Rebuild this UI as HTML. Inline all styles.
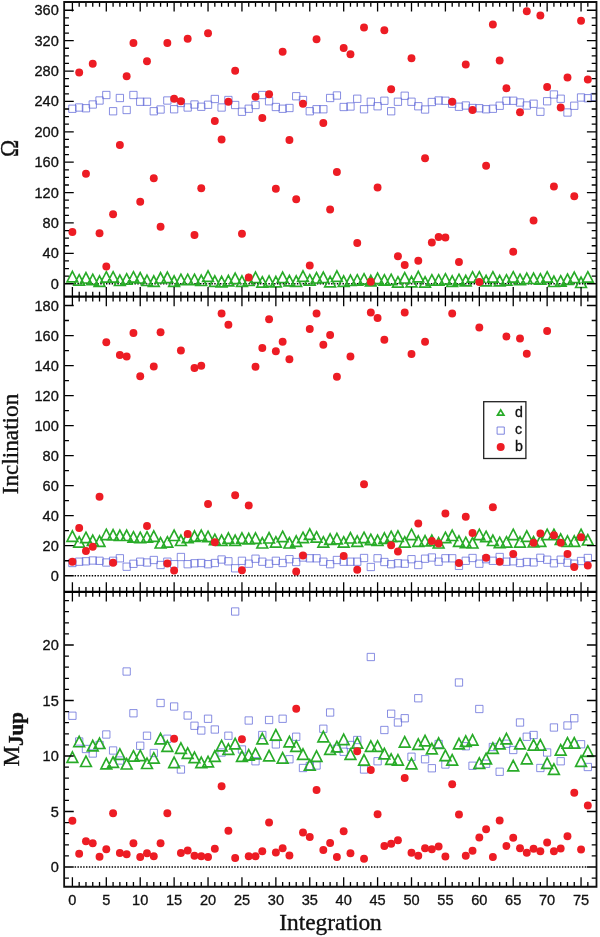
<!DOCTYPE html>
<html lang="en"><head><meta charset="utf-8"><title>Integration plot</title>
<style>html,body{margin:0;padding:0;background:#fff}svg{display:block}.tl{font-family:"Liberation Sans","DejaVu Sans",sans-serif;font-size:14.2px;fill:#111;stroke:#111;stroke-width:0.3px}.ax{font-family:"Liberation Serif","DejaVu Serif",serif;fill:#111;stroke:#111;stroke-width:0.35px}</style></head><body>
<svg width="600" height="937" viewBox="0 0 600 937">
<rect x="0" y="0" width="600" height="937" fill="#fff"/>
<defs><clipPath id="cp"><rect x="64.2" y="2.0" width="532.4" height="884.8"/></clipPath></defs>
<line x1="74.6" y1="283.75" x2="586.5" y2="283.75" stroke="#000" stroke-width="1.4" stroke-dasharray="1.45 1.4"/>
<line x1="74.6" y1="575.75" x2="586.5" y2="575.75" stroke="#000" stroke-width="1.4" stroke-dasharray="1.45 1.4"/>
<line x1="74.6" y1="867.00" x2="586.5" y2="867.00" stroke="#000" stroke-width="1.4" stroke-dasharray="1.45 1.4"/>
<g clip-path="url(#cp)">
<path fill="none" stroke="#6068d8" stroke-width="0.75" d="M68.75 105.10 h7.30 v7.30 h-7.30 Z M75.53 103.85 h7.30 v7.30 h-7.30 Z M82.31 104.60 h7.30 v7.30 h-7.30 Z M89.10 100.85 h7.30 v7.30 h-7.30 Z M95.88 96.85 h7.30 v7.30 h-7.30 Z M102.66 91.35 h7.30 v7.30 h-7.30 Z M109.44 107.60 h7.30 v7.30 h-7.30 Z M116.22 94.35 h7.30 v7.30 h-7.30 Z M123.01 106.35 h7.30 v7.30 h-7.30 Z M129.79 91.35 h7.30 v7.30 h-7.30 Z M136.57 98.10 h7.30 v7.30 h-7.30 Z M143.35 98.10 h7.30 v7.30 h-7.30 Z M150.13 107.60 h7.30 v7.30 h-7.30 Z M156.92 105.85 h7.30 v7.30 h-7.30 Z M163.70 96.85 h7.30 v7.30 h-7.30 Z M170.48 105.60 h7.30 v7.30 h-7.30 Z M177.26 99.35 h7.30 v7.30 h-7.30 Z M184.04 103.85 h7.30 v7.30 h-7.30 Z M190.83 100.85 h7.30 v7.30 h-7.30 Z M197.61 103.10 h7.30 v7.30 h-7.30 Z M204.39 101.10 h7.30 v7.30 h-7.30 Z M211.17 95.35 h7.30 v7.30 h-7.30 Z M217.95 103.85 h7.30 v7.30 h-7.30 Z M224.74 96.35 h7.30 v7.30 h-7.30 Z M231.52 101.35 h7.30 v7.30 h-7.30 Z M238.30 108.10 h7.30 v7.30 h-7.30 Z M245.08 105.10 h7.30 v7.30 h-7.30 Z M251.86 101.35 h7.30 v7.30 h-7.30 Z M258.65 91.35 h7.30 v7.30 h-7.30 Z M265.43 97.60 h7.30 v7.30 h-7.30 Z M272.21 103.35 h7.30 v7.30 h-7.30 Z M278.99 105.10 h7.30 v7.30 h-7.30 Z M285.77 104.35 h7.30 v7.30 h-7.30 Z M292.56 92.60 h7.30 v7.30 h-7.30 Z M299.34 96.35 h7.30 v7.30 h-7.30 Z M306.12 107.60 h7.30 v7.30 h-7.30 Z M312.90 105.60 h7.30 v7.30 h-7.30 Z M319.68 105.60 h7.30 v7.30 h-7.30 Z M326.47 94.35 h7.30 v7.30 h-7.30 Z M333.25 91.85 h7.30 v7.30 h-7.30 Z M340.03 103.35 h7.30 v7.30 h-7.30 Z M346.81 102.85 h7.30 v7.30 h-7.30 Z M353.59 95.10 h7.30 v7.30 h-7.30 Z M360.38 105.60 h7.30 v7.30 h-7.30 Z M367.16 98.10 h7.30 v7.30 h-7.30 Z M373.94 102.60 h7.30 v7.30 h-7.30 Z M380.72 97.10 h7.30 v7.30 h-7.30 Z M387.50 107.60 h7.30 v7.30 h-7.30 Z M394.29 98.10 h7.30 v7.30 h-7.30 Z M401.07 92.10 h7.30 v7.30 h-7.30 Z M407.85 98.10 h7.30 v7.30 h-7.30 Z M414.63 102.60 h7.30 v7.30 h-7.30 Z M421.41 105.85 h7.30 v7.30 h-7.30 Z M428.20 98.35 h7.30 v7.30 h-7.30 Z M434.98 96.85 h7.30 v7.30 h-7.30 Z M441.76 97.10 h7.30 v7.30 h-7.30 Z M448.54 100.10 h7.30 v7.30 h-7.30 Z M455.32 103.10 h7.30 v7.30 h-7.30 Z M462.11 101.85 h7.30 v7.30 h-7.30 Z M468.89 104.35 h7.30 v7.30 h-7.30 Z M475.67 104.60 h7.30 v7.30 h-7.30 Z M482.45 105.60 h7.30 v7.30 h-7.30 Z M489.23 105.10 h7.30 v7.30 h-7.30 Z M496.02 102.10 h7.30 v7.30 h-7.30 Z M502.80 97.10 h7.30 v7.30 h-7.30 Z M509.58 97.10 h7.30 v7.30 h-7.30 Z M516.36 98.85 h7.30 v7.30 h-7.30 Z M523.14 101.85 h7.30 v7.30 h-7.30 Z M529.93 100.10 h7.30 v7.30 h-7.30 Z M536.71 108.10 h7.30 v7.30 h-7.30 Z M543.49 97.60 h7.30 v7.30 h-7.30 Z M550.27 90.85 h7.30 v7.30 h-7.30 Z M557.05 95.10 h7.30 v7.30 h-7.30 Z M563.84 108.85 h7.30 v7.30 h-7.30 Z M570.62 102.10 h7.30 v7.30 h-7.30 Z M577.40 93.85 h7.30 v7.30 h-7.30 Z M584.18 94.60 h7.30 v7.30 h-7.30 Z M590.96 93.35 h7.30 v7.30 h-7.30 Z"/>
<path fill="none" stroke="#28ab28" stroke-width="1.65" stroke-linejoin="miter" d="M72.40 271.40 L77.80 281.80 L67.00 281.80 Z M79.18 274.70 L84.58 285.10 L73.78 285.10 Z M85.96 272.60 L91.36 283.00 L80.56 283.00 Z M92.75 274.20 L98.15 284.60 L87.35 284.60 Z M99.53 275.90 L104.93 286.30 L94.13 286.30 Z M106.31 271.70 L111.71 282.10 L100.91 282.10 Z M113.09 271.70 L118.49 282.10 L107.69 282.10 Z M119.87 275.10 L125.27 285.50 L114.47 285.50 Z M126.66 273.70 L132.06 284.10 L121.26 284.10 Z M133.44 271.70 L138.84 282.10 L128.04 282.10 Z M140.22 272.60 L145.62 283.00 L134.82 283.00 Z M147.00 275.10 L152.40 285.50 L141.60 285.50 Z M153.78 275.90 L159.18 286.30 L148.38 286.30 Z M160.57 272.60 L165.97 283.00 L155.17 283.00 Z M167.35 272.10 L172.75 282.50 L161.95 282.50 Z M174.13 275.90 L179.53 286.30 L168.73 286.30 Z M180.91 274.20 L186.31 284.60 L175.51 284.60 Z M187.69 274.20 L193.09 284.60 L182.29 284.60 Z M194.48 274.20 L199.88 284.60 L189.08 284.60 Z M201.26 275.10 L206.66 285.50 L195.86 285.50 Z M208.04 270.90 L213.44 281.30 L202.64 281.30 Z M214.82 275.90 L220.22 286.30 L209.42 286.30 Z M221.60 276.40 L227.00 286.80 L216.20 286.80 Z M228.39 275.40 L233.79 285.80 L222.99 285.80 Z M235.17 273.10 L240.57 283.50 L229.77 283.50 Z M241.95 275.90 L247.35 286.30 L236.55 286.30 Z M248.73 275.10 L254.13 285.50 L243.33 285.50 Z M255.51 272.10 L260.91 282.50 L250.11 282.50 Z M262.30 276.70 L267.70 287.10 L256.90 287.10 Z M269.08 275.90 L274.48 286.30 L263.68 286.30 Z M275.86 276.40 L281.26 286.80 L270.46 286.80 Z M282.64 272.10 L288.04 282.50 L277.24 282.50 Z M289.42 275.40 L294.82 285.80 L284.02 285.80 Z M296.21 275.90 L301.61 286.30 L290.81 286.30 Z M302.99 270.90 L308.39 281.30 L297.59 281.30 Z M309.77 274.70 L315.17 285.10 L304.37 285.10 Z M316.55 272.60 L321.95 283.00 L311.15 283.00 Z M323.33 272.10 L328.73 282.50 L317.93 282.50 Z M330.12 276.40 L335.52 286.80 L324.72 286.80 Z M336.90 270.90 L342.30 281.30 L331.50 281.30 Z M343.68 275.90 L349.08 286.30 L338.28 286.30 Z M350.46 275.10 L355.86 285.50 L345.06 285.50 Z M357.24 274.70 L362.64 285.10 L351.84 285.10 Z M364.03 273.70 L369.43 284.10 L358.63 284.10 Z M370.81 275.40 L376.21 285.80 L365.41 285.80 Z M377.59 273.10 L382.99 283.50 L372.19 283.50 Z M384.37 274.70 L389.77 285.10 L378.97 285.10 Z M391.15 274.20 L396.55 284.60 L385.75 284.60 Z M397.94 276.70 L403.34 287.10 L392.54 287.10 Z M404.72 272.60 L410.12 283.00 L399.32 283.00 Z M411.50 276.40 L416.90 286.80 L406.10 286.80 Z M418.28 271.40 L423.68 281.80 L412.88 281.80 Z M425.06 276.70 L430.46 287.10 L419.66 287.10 Z M431.85 274.70 L437.25 285.10 L426.45 285.10 Z M438.63 274.70 L444.03 285.10 L433.23 285.10 Z M445.41 273.70 L450.81 284.10 L440.01 284.10 Z M452.19 275.90 L457.59 286.30 L446.79 286.30 Z M458.97 274.20 L464.37 284.60 L453.57 284.60 Z M465.76 275.40 L471.16 285.80 L460.36 285.80 Z M472.54 271.70 L477.94 282.10 L467.14 282.10 Z M479.32 271.70 L484.72 282.10 L473.92 282.10 Z M486.10 275.40 L491.50 285.80 L480.70 285.80 Z M492.88 271.70 L498.28 282.10 L487.48 282.10 Z M499.67 275.40 L505.07 285.80 L494.27 285.80 Z M506.45 274.70 L511.85 285.10 L501.05 285.10 Z M513.23 271.70 L518.63 282.10 L507.83 282.10 Z M520.01 274.20 L525.41 284.60 L514.61 284.60 Z M526.79 273.10 L532.19 283.50 L521.39 283.50 Z M533.58 273.10 L538.98 283.50 L528.18 283.50 Z M540.36 273.70 L545.76 284.10 L534.96 284.10 Z M547.14 271.70 L552.54 282.10 L541.74 282.10 Z M553.92 276.10 L559.32 286.50 L548.52 286.50 Z M560.70 275.70 L566.10 286.10 L555.30 286.10 Z M567.49 274.00 L572.89 284.40 L562.09 284.40 Z M574.27 272.10 L579.67 282.50 L568.87 282.50 Z M581.05 277.10 L586.45 287.50 L575.65 287.50 Z M587.83 271.70 L593.23 282.10 L582.43 282.10 Z"/>
<g fill="#ed1c24"><circle cx="72.40" cy="232.00" r="3.95"/><circle cx="79.18" cy="72.50" r="3.95"/><circle cx="85.96" cy="173.75" r="3.95"/><circle cx="92.75" cy="63.75" r="3.95"/><circle cx="99.53" cy="233.25" r="3.95"/><circle cx="106.31" cy="266.50" r="3.95"/><circle cx="113.09" cy="214.25" r="3.95"/><circle cx="119.87" cy="145.00" r="3.95"/><circle cx="126.66" cy="76.25" r="3.95"/><circle cx="133.44" cy="43.00" r="3.95"/><circle cx="140.22" cy="201.75" r="3.95"/><circle cx="147.00" cy="61.25" r="3.95"/><circle cx="153.78" cy="178.25" r="3.95"/><circle cx="160.57" cy="226.75" r="3.95"/><circle cx="167.35" cy="43.00" r="3.95"/><circle cx="174.13" cy="98.75" r="3.95"/><circle cx="180.91" cy="101.25" r="3.95"/><circle cx="187.69" cy="38.75" r="3.95"/><circle cx="194.48" cy="235.00" r="3.95"/><circle cx="201.26" cy="188.25" r="3.95"/><circle cx="208.04" cy="33.25" r="3.95"/><circle cx="214.82" cy="121.00" r="3.95"/><circle cx="221.60" cy="139.50" r="3.95"/><circle cx="228.39" cy="101.75" r="3.95"/><circle cx="235.17" cy="70.75" r="3.95"/><circle cx="241.95" cy="233.75" r="3.95"/><circle cx="248.73" cy="277.50" r="3.95"/><circle cx="255.51" cy="96.75" r="3.95"/><circle cx="262.30" cy="118.00" r="3.95"/><circle cx="269.08" cy="94.25" r="3.95"/><circle cx="275.86" cy="188.75" r="3.95"/><circle cx="282.64" cy="51.75" r="3.95"/><circle cx="289.42" cy="140.00" r="3.95"/><circle cx="296.21" cy="199.25" r="3.95"/><circle cx="302.99" cy="103.75" r="3.95"/><circle cx="309.77" cy="265.50" r="3.95"/><circle cx="316.55" cy="39.25" r="3.95"/><circle cx="323.33" cy="123.00" r="3.95"/><circle cx="330.12" cy="209.50" r="3.95"/><circle cx="336.90" cy="172.00" r="3.95"/><circle cx="343.68" cy="48.00" r="3.95"/><circle cx="350.46" cy="54.25" r="3.95"/><circle cx="357.24" cy="243.00" r="3.95"/><circle cx="364.03" cy="27.50" r="3.95"/><circle cx="370.81" cy="281.75" r="3.95"/><circle cx="377.59" cy="187.50" r="3.95"/><circle cx="384.37" cy="30.25" r="3.95"/><circle cx="391.15" cy="89.25" r="3.95"/><circle cx="397.94" cy="256.25" r="3.95"/><circle cx="404.72" cy="265.00" r="3.95"/><circle cx="411.50" cy="58.25" r="3.95"/><circle cx="418.28" cy="260.75" r="3.95"/><circle cx="425.06" cy="158.25" r="3.95"/><circle cx="431.85" cy="242.50" r="3.95"/><circle cx="438.63" cy="237.00" r="3.95"/><circle cx="445.41" cy="237.50" r="3.95"/><circle cx="452.19" cy="101.75" r="3.95"/><circle cx="458.97" cy="262.00" r="3.95"/><circle cx="465.76" cy="64.50" r="3.95"/><circle cx="472.54" cy="110.00" r="3.95"/><circle cx="479.32" cy="282.00" r="3.95"/><circle cx="486.10" cy="165.75" r="3.95"/><circle cx="492.88" cy="24.50" r="3.95"/><circle cx="499.67" cy="60.50" r="3.95"/><circle cx="506.45" cy="88.25" r="3.95"/><circle cx="513.23" cy="251.75" r="3.95"/><circle cx="520.01" cy="112.25" r="3.95"/><circle cx="526.79" cy="11.25" r="3.95"/><circle cx="533.58" cy="220.50" r="3.95"/><circle cx="540.36" cy="15.50" r="3.95"/><circle cx="547.14" cy="87.00" r="3.95"/><circle cx="553.92" cy="186.50" r="3.95"/><circle cx="560.70" cy="107.50" r="3.95"/><circle cx="567.49" cy="77.50" r="3.95"/><circle cx="574.27" cy="196.25" r="3.95"/><circle cx="581.05" cy="20.75" r="3.95"/><circle cx="587.83" cy="79.50" r="3.95"/></g>
<path fill="none" stroke="#6068d8" stroke-width="0.75" d="M68.75 559.35 h7.30 v7.30 h-7.30 Z M75.53 558.05 h7.30 v7.30 h-7.30 Z M82.31 557.65 h7.30 v7.30 h-7.30 Z M89.10 556.85 h7.30 v7.30 h-7.30 Z M95.88 557.15 h7.30 v7.30 h-7.30 Z M102.66 558.85 h7.30 v7.30 h-7.30 Z M109.44 557.15 h7.30 v7.30 h-7.30 Z M116.22 554.65 h7.30 v7.30 h-7.30 Z M123.01 563.05 h7.30 v7.30 h-7.30 Z M129.79 560.15 h7.30 v7.30 h-7.30 Z M136.57 558.05 h7.30 v7.30 h-7.30 Z M143.35 558.85 h7.30 v7.30 h-7.30 Z M150.13 556.35 h7.30 v7.30 h-7.30 Z M156.92 561.35 h7.30 v7.30 h-7.30 Z M163.70 558.05 h7.30 v7.30 h-7.30 Z M170.48 560.55 h7.30 v7.30 h-7.30 Z M177.26 553.35 h7.30 v7.30 h-7.30 Z M184.04 560.55 h7.30 v7.30 h-7.30 Z M190.83 559.65 h7.30 v7.30 h-7.30 Z M197.61 559.35 h7.30 v7.30 h-7.30 Z M204.39 560.55 h7.30 v7.30 h-7.30 Z M211.17 559.35 h7.30 v7.30 h-7.30 Z M217.95 555.85 h7.30 v7.30 h-7.30 Z M224.74 557.65 h7.30 v7.30 h-7.30 Z M231.52 564.65 h7.30 v7.30 h-7.30 Z M238.30 557.15 h7.30 v7.30 h-7.30 Z M245.08 560.05 h7.30 v7.30 h-7.30 Z M251.86 555.05 h7.30 v7.30 h-7.30 Z M258.65 558.05 h7.30 v7.30 h-7.30 Z M265.43 560.05 h7.30 v7.30 h-7.30 Z M272.21 557.15 h7.30 v7.30 h-7.30 Z M278.99 559.35 h7.30 v7.30 h-7.30 Z M285.77 555.55 h7.30 v7.30 h-7.30 Z M292.56 558.35 h7.30 v7.30 h-7.30 Z M299.34 553.85 h7.30 v7.30 h-7.30 Z M306.12 554.65 h7.30 v7.30 h-7.30 Z M312.90 554.65 h7.30 v7.30 h-7.30 Z M319.68 558.05 h7.30 v7.30 h-7.30 Z M326.47 560.55 h7.30 v7.30 h-7.30 Z M333.25 556.35 h7.30 v7.30 h-7.30 Z M340.03 558.05 h7.30 v7.30 h-7.30 Z M346.81 558.05 h7.30 v7.30 h-7.30 Z M353.59 558.05 h7.30 v7.30 h-7.30 Z M360.38 554.35 h7.30 v7.30 h-7.30 Z M367.16 563.35 h7.30 v7.30 h-7.30 Z M373.94 554.65 h7.30 v7.30 h-7.30 Z M380.72 558.35 h7.30 v7.30 h-7.30 Z M387.50 560.55 h7.30 v7.30 h-7.30 Z M394.29 559.65 h7.30 v7.30 h-7.30 Z M401.07 560.05 h7.30 v7.30 h-7.30 Z M407.85 555.55 h7.30 v7.30 h-7.30 Z M414.63 561.35 h7.30 v7.30 h-7.30 Z M421.41 555.05 h7.30 v7.30 h-7.30 Z M428.20 553.85 h7.30 v7.30 h-7.30 Z M434.98 558.05 h7.30 v7.30 h-7.30 Z M441.76 554.65 h7.30 v7.30 h-7.30 Z M448.54 554.65 h7.30 v7.30 h-7.30 Z M455.32 562.15 h7.30 v7.30 h-7.30 Z M462.11 557.15 h7.30 v7.30 h-7.30 Z M468.89 554.35 h7.30 v7.30 h-7.30 Z M475.67 560.05 h7.30 v7.30 h-7.30 Z M482.45 555.55 h7.30 v7.30 h-7.30 Z M489.23 557.15 h7.30 v7.30 h-7.30 Z M496.02 553.35 h7.30 v7.30 h-7.30 Z M502.80 558.05 h7.30 v7.30 h-7.30 Z M509.58 557.65 h7.30 v7.30 h-7.30 Z M516.36 559.35 h7.30 v7.30 h-7.30 Z M523.14 558.35 h7.30 v7.30 h-7.30 Z M529.93 558.75 h7.30 v7.30 h-7.30 Z M536.71 554.15 h7.30 v7.30 h-7.30 Z M543.49 556.05 h7.30 v7.30 h-7.30 Z M550.27 559.65 h7.30 v7.30 h-7.30 Z M557.05 556.05 h7.30 v7.30 h-7.30 Z M563.84 559.05 h7.30 v7.30 h-7.30 Z M570.62 560.05 h7.30 v7.30 h-7.30 Z M577.40 557.35 h7.30 v7.30 h-7.30 Z M584.18 554.35 h7.30 v7.30 h-7.30 Z"/>
<path fill="none" stroke="#28ab28" stroke-width="1.65" stroke-linejoin="miter" d="M72.40 530.90 L77.80 541.30 L67.00 541.30 Z M79.18 536.70 L84.58 547.10 L73.78 547.10 Z M85.96 532.20 L91.36 542.60 L80.56 542.60 Z M92.75 535.10 L98.15 545.50 L87.35 545.50 Z M99.53 535.90 L104.93 546.30 L94.13 546.30 Z M106.31 529.20 L111.71 539.60 L100.91 539.60 Z M113.09 529.60 L118.49 540.00 L107.69 540.00 Z M119.87 530.10 L125.27 540.50 L114.47 540.50 Z M126.66 530.10 L132.06 540.50 L121.26 540.50 Z M133.44 531.70 L138.84 542.10 L128.04 542.10 Z M140.22 532.20 L145.62 542.60 L134.82 542.60 Z M147.00 531.70 L152.40 542.10 L141.60 542.10 Z M153.78 530.90 L159.18 541.30 L148.38 541.30 Z M160.57 537.60 L165.97 548.00 L155.17 548.00 Z M167.35 536.70 L172.75 547.10 L161.95 547.10 Z M174.13 530.10 L179.53 540.50 L168.73 540.50 Z M180.91 535.10 L186.31 545.50 L175.51 545.50 Z M187.69 532.20 L193.09 542.60 L182.29 542.60 Z M194.48 530.90 L199.88 541.30 L189.08 541.30 Z M201.26 530.10 L206.66 540.50 L195.86 540.50 Z M208.04 531.20 L213.44 541.60 L202.64 541.60 Z M214.82 534.20 L220.22 544.60 L209.42 544.60 Z M221.60 535.10 L227.00 545.50 L216.20 545.50 Z M228.39 532.90 L233.79 543.30 L222.99 543.30 Z M235.17 535.10 L240.57 545.50 L229.77 545.50 Z M241.95 532.90 L247.35 543.30 L236.55 543.30 Z M248.73 533.40 L254.13 543.80 L243.33 543.80 Z M255.51 532.90 L260.91 543.30 L250.11 543.30 Z M262.30 537.60 L267.70 548.00 L256.90 548.00 Z M269.08 532.60 L274.48 543.00 L263.68 543.00 Z M275.86 536.70 L281.26 547.10 L270.46 547.10 Z M282.64 531.20 L288.04 541.60 L277.24 541.60 Z M289.42 537.60 L294.82 548.00 L284.02 548.00 Z M296.21 535.90 L301.61 546.30 L290.81 546.30 Z M302.99 532.20 L308.39 542.60 L297.59 542.60 Z M309.77 528.90 L315.17 539.30 L304.37 539.30 Z M316.55 531.70 L321.95 542.10 L311.15 542.10 Z M323.33 536.70 L328.73 547.10 L317.93 547.10 Z M330.12 533.90 L335.52 544.30 L324.72 544.30 Z M336.90 533.40 L342.30 543.80 L331.50 543.80 Z M343.68 536.70 L349.08 547.10 L338.28 547.10 Z M350.46 532.60 L355.86 543.00 L345.06 543.00 Z M357.24 535.90 L362.64 546.30 L351.84 546.30 Z M364.03 532.20 L369.43 542.60 L358.63 542.60 Z M370.81 534.20 L376.21 544.60 L365.41 544.60 Z M377.59 535.10 L382.99 545.50 L372.19 545.50 Z M384.37 532.90 L389.77 543.30 L378.97 543.30 Z M391.15 531.20 L396.55 541.60 L385.75 541.60 Z M397.94 530.90 L403.34 541.30 L392.54 541.30 Z M404.72 536.70 L410.12 547.10 L399.32 547.10 Z M411.50 529.20 L416.90 539.60 L406.10 539.60 Z M418.28 535.90 L423.68 546.30 L412.88 546.30 Z M425.06 535.60 L430.46 546.00 L419.66 546.00 Z M431.85 535.10 L437.25 545.50 L426.45 545.50 Z M438.63 537.60 L444.03 548.00 L433.23 548.00 Z M445.41 532.20 L450.81 542.60 L440.01 542.60 Z M452.19 530.10 L457.59 540.50 L446.79 540.50 Z M458.97 535.90 L464.37 546.30 L453.57 546.30 Z M465.76 537.20 L471.16 547.60 L460.36 547.60 Z M472.54 537.60 L477.94 548.00 L467.14 548.00 Z M479.32 529.20 L484.72 539.60 L473.92 539.60 Z M486.10 531.20 L491.50 541.60 L480.70 541.60 Z M492.88 535.10 L498.28 545.50 L487.48 545.50 Z M499.67 537.20 L505.07 547.60 L494.27 547.60 Z M506.45 536.70 L511.85 547.10 L501.05 547.10 Z M513.23 529.20 L518.63 539.60 L507.83 539.60 Z M520.01 536.70 L525.41 547.10 L514.61 547.10 Z M526.79 530.90 L532.19 541.30 L521.39 541.30 Z M533.58 536.60 L538.98 547.00 L528.18 547.00 Z M540.36 535.90 L545.76 546.30 L534.96 546.30 Z M547.14 529.20 L552.54 539.60 L541.74 539.60 Z M553.92 529.20 L559.32 539.60 L548.52 539.60 Z M560.70 533.90 L566.10 544.30 L555.30 544.30 Z M567.49 535.90 L572.89 546.30 L562.09 546.30 Z M574.27 535.90 L579.67 546.30 L568.87 546.30 Z M581.05 529.20 L586.45 539.60 L575.65 539.60 Z M587.83 534.60 L593.23 545.00 L582.43 545.00 Z"/>
<g fill="#ed1c24"><circle cx="72.40" cy="561.75" r="3.95"/><circle cx="79.18" cy="528.00" r="3.95"/><circle cx="85.96" cy="551.00" r="3.95"/><circle cx="92.75" cy="546.75" r="3.95"/><circle cx="99.53" cy="496.75" r="3.95"/><circle cx="106.31" cy="342.25" r="3.95"/><circle cx="113.09" cy="562.75" r="3.95"/><circle cx="119.87" cy="355.00" r="3.95"/><circle cx="126.66" cy="356.50" r="3.95"/><circle cx="133.44" cy="333.00" r="3.95"/><circle cx="140.22" cy="376.25" r="3.95"/><circle cx="147.00" cy="526.00" r="3.95"/><circle cx="153.78" cy="366.50" r="3.95"/><circle cx="160.57" cy="332.25" r="3.95"/><circle cx="167.35" cy="563.50" r="3.95"/><circle cx="174.13" cy="570.50" r="3.95"/><circle cx="180.91" cy="350.50" r="3.95"/><circle cx="187.69" cy="534.00" r="3.95"/><circle cx="194.48" cy="368.00" r="3.95"/><circle cx="201.26" cy="365.75" r="3.95"/><circle cx="208.04" cy="504.00" r="3.95"/><circle cx="214.82" cy="542.25" r="3.95"/><circle cx="221.60" cy="313.50" r="3.95"/><circle cx="228.39" cy="324.75" r="3.95"/><circle cx="235.17" cy="495.25" r="3.95"/><circle cx="241.95" cy="570.25" r="3.95"/><circle cx="248.73" cy="505.50" r="3.95"/><circle cx="255.51" cy="366.75" r="3.95"/><circle cx="262.30" cy="348.00" r="3.95"/><circle cx="269.08" cy="319.25" r="3.95"/><circle cx="275.86" cy="351.25" r="3.95"/><circle cx="282.64" cy="341.75" r="3.95"/><circle cx="289.42" cy="359.25" r="3.95"/><circle cx="296.21" cy="571.50" r="3.95"/><circle cx="302.99" cy="555.50" r="3.95"/><circle cx="309.77" cy="329.00" r="3.95"/><circle cx="316.55" cy="313.50" r="3.95"/><circle cx="323.33" cy="344.75" r="3.95"/><circle cx="330.12" cy="335.00" r="3.95"/><circle cx="336.90" cy="376.75" r="3.95"/><circle cx="343.68" cy="556.00" r="3.95"/><circle cx="350.46" cy="356.50" r="3.95"/><circle cx="357.24" cy="569.75" r="3.95"/><circle cx="364.03" cy="484.25" r="3.95"/><circle cx="370.81" cy="312.50" r="3.95"/><circle cx="377.59" cy="318.00" r="3.95"/><circle cx="384.37" cy="339.75" r="3.95"/><circle cx="391.15" cy="545.25" r="3.95"/><circle cx="397.94" cy="551.50" r="3.95"/><circle cx="404.72" cy="312.50" r="3.95"/><circle cx="411.50" cy="354.00" r="3.95"/><circle cx="418.28" cy="523.50" r="3.95"/><circle cx="425.06" cy="341.75" r="3.95"/><circle cx="431.85" cy="541.00" r="3.95"/><circle cx="438.63" cy="543.50" r="3.95"/><circle cx="445.41" cy="513.50" r="3.95"/><circle cx="452.19" cy="313.50" r="3.95"/><circle cx="458.97" cy="563.00" r="3.95"/><circle cx="465.76" cy="516.75" r="3.95"/><circle cx="472.54" cy="533.00" r="3.95"/><circle cx="479.32" cy="327.50" r="3.95"/><circle cx="486.10" cy="557.75" r="3.95"/><circle cx="492.88" cy="507.25" r="3.95"/><circle cx="499.67" cy="561.75" r="3.95"/><circle cx="506.45" cy="336.50" r="3.95"/><circle cx="513.23" cy="554.00" r="3.95"/><circle cx="520.01" cy="338.50" r="3.95"/><circle cx="526.79" cy="353.75" r="3.95"/><circle cx="533.58" cy="542.75" r="3.95"/><circle cx="540.36" cy="533.50" r="3.95"/><circle cx="547.14" cy="331.00" r="3.95"/><circle cx="553.92" cy="535.25" r="3.95"/><circle cx="560.70" cy="542.75" r="3.95"/><circle cx="567.49" cy="554.00" r="3.95"/><circle cx="574.27" cy="567.00" r="3.95"/><circle cx="581.05" cy="537.25" r="3.95"/><circle cx="587.83" cy="565.50" r="3.95"/></g>
<path fill="none" stroke="#6068d8" stroke-width="0.75" d="M68.75 712.10 h7.30 v7.30 h-7.30 Z M75.53 737.85 h7.30 v7.30 h-7.30 Z M82.31 745.35 h7.30 v7.30 h-7.30 Z M89.10 749.85 h7.30 v7.30 h-7.30 Z M95.88 741.35 h7.30 v7.30 h-7.30 Z M102.66 730.85 h7.30 v7.30 h-7.30 Z M109.44 746.85 h7.30 v7.30 h-7.30 Z M116.22 756.85 h7.30 v7.30 h-7.30 Z M123.01 667.85 h7.30 v7.30 h-7.30 Z M129.79 709.60 h7.30 v7.30 h-7.30 Z M136.57 742.10 h7.30 v7.30 h-7.30 Z M143.35 732.10 h7.30 v7.30 h-7.30 Z M150.13 749.35 h7.30 v7.30 h-7.30 Z M156.92 699.35 h7.30 v7.30 h-7.30 Z M163.70 735.10 h7.30 v7.30 h-7.30 Z M170.48 702.85 h7.30 v7.30 h-7.30 Z M177.26 765.85 h7.30 v7.30 h-7.30 Z M184.04 711.85 h7.30 v7.30 h-7.30 Z M190.83 722.10 h7.30 v7.30 h-7.30 Z M197.61 726.85 h7.30 v7.30 h-7.30 Z M204.39 715.10 h7.30 v7.30 h-7.30 Z M211.17 725.85 h7.30 v7.30 h-7.30 Z M217.95 748.85 h7.30 v7.30 h-7.30 Z M224.74 732.10 h7.30 v7.30 h-7.30 Z M231.52 607.85 h7.30 v7.30 h-7.30 Z M238.30 745.85 h7.30 v7.30 h-7.30 Z M245.08 716.85 h7.30 v7.30 h-7.30 Z M251.86 757.60 h7.30 v7.30 h-7.30 Z M258.65 731.35 h7.30 v7.30 h-7.30 Z M265.43 716.35 h7.30 v7.30 h-7.30 Z M272.21 740.75 h7.30 v7.30 h-7.30 Z M278.99 715.10 h7.30 v7.30 h-7.30 Z M285.77 755.60 h7.30 v7.30 h-7.30 Z M292.56 733.10 h7.30 v7.30 h-7.30 Z M299.34 764.35 h7.30 v7.30 h-7.30 Z M306.12 762.35 h7.30 v7.30 h-7.30 Z M312.90 761.85 h7.30 v7.30 h-7.30 Z M319.68 725.10 h7.30 v7.30 h-7.30 Z M326.47 708.85 h7.30 v7.30 h-7.30 Z M333.25 745.10 h7.30 v7.30 h-7.30 Z M340.03 748.10 h7.30 v7.30 h-7.30 Z M346.81 741.35 h7.30 v7.30 h-7.30 Z M353.59 736.35 h7.30 v7.30 h-7.30 Z M360.38 765.85 h7.30 v7.30 h-7.30 Z M367.16 653.35 h7.30 v7.30 h-7.30 Z M373.94 757.60 h7.30 v7.30 h-7.30 Z M380.72 726.35 h7.30 v7.30 h-7.30 Z M387.50 710.10 h7.30 v7.30 h-7.30 Z M394.29 718.85 h7.30 v7.30 h-7.30 Z M401.07 714.60 h7.30 v7.30 h-7.30 Z M407.85 753.10 h7.30 v7.30 h-7.30 Z M414.63 694.60 h7.30 v7.30 h-7.30 Z M421.41 755.60 h7.30 v7.30 h-7.30 Z M428.20 764.60 h7.30 v7.30 h-7.30 Z M434.98 740.35 h7.30 v7.30 h-7.30 Z M441.76 760.85 h7.30 v7.30 h-7.30 Z M455.32 678.85 h7.30 v7.30 h-7.30 Z M462.11 742.60 h7.30 v7.30 h-7.30 Z M468.89 762.10 h7.30 v7.30 h-7.30 Z M475.67 705.35 h7.30 v7.30 h-7.30 Z M482.45 760.10 h7.30 v7.30 h-7.30 Z M489.23 743.35 h7.30 v7.30 h-7.30 Z M496.02 768.10 h7.30 v7.30 h-7.30 Z M502.80 740.10 h7.30 v7.30 h-7.30 Z M509.58 746.35 h7.30 v7.30 h-7.30 Z M516.36 718.85 h7.30 v7.30 h-7.30 Z M523.14 733.10 h7.30 v7.30 h-7.30 Z M529.93 731.35 h7.30 v7.30 h-7.30 Z M536.71 764.35 h7.30 v7.30 h-7.30 Z M543.49 748.85 h7.30 v7.30 h-7.30 Z M550.27 723.85 h7.30 v7.30 h-7.30 Z M557.05 757.60 h7.30 v7.30 h-7.30 Z M563.84 721.85 h7.30 v7.30 h-7.30 Z M570.62 714.60 h7.30 v7.30 h-7.30 Z M577.40 740.60 h7.30 v7.30 h-7.30 Z M584.18 763.35 h7.30 v7.30 h-7.30 Z"/>
<path fill="none" stroke="#28ab28" stroke-width="1.65" stroke-linejoin="miter" d="M72.40 751.90 L77.80 762.30 L67.00 762.30 Z M79.18 736.30 L84.58 746.70 L73.78 746.70 Z M85.96 756.10 L91.36 766.50 L80.56 766.50 Z M92.75 740.40 L98.15 750.80 L87.35 750.80 Z M99.53 738.10 L104.93 748.50 L94.13 748.50 Z M106.31 758.40 L111.71 768.80 L100.91 768.80 Z M113.09 756.90 L118.49 767.30 L107.69 767.30 Z M119.87 748.90 L125.27 759.30 L114.47 759.30 Z M126.66 758.60 L132.06 769.00 L121.26 769.00 Z M133.44 750.70 L138.84 761.10 L128.04 761.10 Z M140.22 750.20 L145.62 760.60 L134.82 760.60 Z M147.00 758.10 L152.40 768.50 L141.60 768.50 Z M153.78 752.70 L159.18 763.10 L148.38 763.10 Z M160.57 733.40 L165.97 743.80 L155.17 743.80 Z M167.35 740.90 L172.75 751.30 L161.95 751.30 Z M174.13 757.15 L179.53 767.55 L168.73 767.55 Z M180.91 742.90 L186.31 753.30 L175.51 753.30 Z M187.69 747.90 L193.09 758.30 L182.29 758.30 Z M194.48 752.15 L199.88 762.55 L189.08 762.55 Z M201.26 757.15 L206.66 767.55 L195.86 767.55 Z M208.04 756.40 L213.44 766.80 L202.64 766.80 Z M214.82 750.90 L220.22 761.30 L209.42 761.30 Z M221.60 740.40 L227.00 750.80 L216.20 750.80 Z M228.39 743.90 L233.79 754.30 L222.99 754.30 Z M235.17 738.40 L240.57 748.80 L229.77 748.80 Z M241.95 750.90 L247.35 761.30 L236.55 761.30 Z M248.73 749.65 L254.13 760.05 L243.33 760.05 Z M255.51 748.40 L260.91 758.80 L250.11 758.80 Z M262.30 733.40 L267.70 743.80 L256.90 743.80 Z M269.08 750.40 L274.48 760.80 L263.68 760.80 Z M275.86 729.65 L281.26 740.05 L270.46 740.05 Z M282.64 752.65 L288.04 763.05 L277.24 763.05 Z M289.42 736.40 L294.82 746.80 L284.02 746.80 Z M296.21 740.90 L301.61 751.30 L290.81 751.30 Z M302.99 748.90 L308.39 759.30 L297.59 759.30 Z M309.77 759.65 L315.17 770.05 L304.37 770.05 Z M316.55 750.90 L321.95 761.30 L311.15 761.30 Z M323.33 731.40 L328.73 741.80 L317.93 741.80 Z M330.12 743.90 L335.52 754.30 L324.72 754.30 Z M336.90 741.40 L342.30 751.80 L331.50 751.80 Z M343.68 734.15 L349.08 744.55 L338.28 744.55 Z M350.46 748.90 L355.86 759.30 L345.06 759.30 Z M357.24 737.65 L362.64 748.05 L351.84 748.05 Z M364.03 754.65 L369.43 765.05 L358.63 765.05 Z M370.81 740.90 L376.21 751.30 L365.41 751.30 Z M377.59 740.90 L382.99 751.30 L372.19 751.30 Z M384.37 748.40 L389.77 758.80 L378.97 758.80 Z M391.15 753.90 L396.55 764.30 L385.75 764.30 Z M397.94 754.65 L403.34 765.05 L392.54 765.05 Z M404.72 736.65 L410.12 747.05 L399.32 747.05 Z M411.50 758.40 L416.90 768.80 L406.10 768.80 Z M418.28 738.90 L423.68 749.30 L412.88 749.30 Z M425.06 735.40 L430.46 745.80 L419.66 745.80 Z M431.85 743.40 L437.25 753.80 L426.45 753.80 Z M438.63 737.90 L444.03 748.30 L433.23 748.30 Z M445.41 750.15 L450.81 760.55 L440.01 760.55 Z M452.19 754.65 L457.59 765.05 L446.79 765.05 Z M458.97 738.40 L464.37 748.80 L453.57 748.80 Z M465.76 735.90 L471.16 746.30 L460.36 746.30 Z M472.54 734.65 L477.94 745.05 L467.14 745.05 Z M479.32 757.90 L484.72 768.30 L473.92 768.30 Z M486.10 753.40 L491.50 763.80 L480.70 763.80 Z M492.88 742.90 L498.28 753.30 L487.48 753.30 Z M499.67 738.40 L505.07 748.80 L494.27 748.80 Z M506.45 733.40 L511.85 743.80 L501.05 743.80 Z M513.23 760.40 L518.63 770.80 L507.83 770.80 Z M520.01 738.40 L525.41 748.80 L514.61 748.80 Z M526.79 753.40 L532.19 763.80 L521.39 763.80 Z M533.58 739.65 L538.98 750.05 L528.18 750.05 Z M540.36 739.65 L545.76 750.05 L534.96 750.05 Z M547.14 757.90 L552.54 768.30 L541.74 768.30 Z M553.92 763.90 L559.32 774.30 L548.52 774.30 Z M560.70 744.65 L566.10 755.05 L555.30 755.05 Z M567.49 737.65 L572.89 748.05 L562.09 748.05 Z M574.27 737.65 L579.67 748.05 L568.87 748.05 Z M581.05 755.90 L586.45 766.30 L575.65 766.30 Z M587.83 745.90 L593.23 756.30 L582.43 756.30 Z"/>
<g fill="#ed1c24"><circle cx="72.40" cy="820.75" r="3.95"/><circle cx="79.18" cy="853.75" r="3.95"/><circle cx="85.96" cy="841.25" r="3.95"/><circle cx="92.75" cy="843.25" r="3.95"/><circle cx="99.53" cy="856.75" r="3.95"/><circle cx="106.31" cy="849.25" r="3.95"/><circle cx="113.09" cy="813.25" r="3.95"/><circle cx="119.87" cy="853.00" r="3.95"/><circle cx="126.66" cy="854.25" r="3.95"/><circle cx="133.44" cy="843.25" r="3.95"/><circle cx="140.22" cy="857.00" r="3.95"/><circle cx="147.00" cy="853.25" r="3.95"/><circle cx="153.78" cy="856.25" r="3.95"/><circle cx="160.57" cy="843.25" r="3.95"/><circle cx="167.35" cy="813.25" r="3.95"/><circle cx="174.13" cy="738.75" r="3.95"/><circle cx="180.91" cy="853.00" r="3.95"/><circle cx="187.69" cy="850.50" r="3.95"/><circle cx="194.48" cy="855.75" r="3.95"/><circle cx="201.26" cy="856.25" r="3.95"/><circle cx="208.04" cy="857.00" r="3.95"/><circle cx="214.82" cy="848.75" r="3.95"/><circle cx="221.60" cy="786.25" r="3.95"/><circle cx="228.39" cy="830.75" r="3.95"/><circle cx="235.17" cy="858.00" r="3.95"/><circle cx="241.95" cy="739.25" r="3.95"/><circle cx="248.73" cy="856.25" r="3.95"/><circle cx="255.51" cy="856.25" r="3.95"/><circle cx="262.30" cy="851.25" r="3.95"/><circle cx="269.08" cy="822.50" r="3.95"/><circle cx="275.86" cy="852.50" r="3.95"/><circle cx="282.64" cy="848.25" r="3.95"/><circle cx="289.42" cy="855.50" r="3.95"/><circle cx="296.21" cy="708.75" r="3.95"/><circle cx="302.99" cy="832.50" r="3.95"/><circle cx="309.77" cy="837.00" r="3.95"/><circle cx="316.55" cy="790.00" r="3.95"/><circle cx="323.33" cy="850.00" r="3.95"/><circle cx="330.12" cy="843.00" r="3.95"/><circle cx="336.90" cy="857.00" r="3.95"/><circle cx="343.68" cy="831.25" r="3.95"/><circle cx="350.46" cy="853.25" r="3.95"/><circle cx="357.24" cy="751.25" r="3.95"/><circle cx="364.03" cy="858.75" r="3.95"/><circle cx="370.81" cy="770.00" r="3.95"/><circle cx="377.59" cy="814.25" r="3.95"/><circle cx="384.37" cy="846.00" r="3.95"/><circle cx="391.15" cy="843.75" r="3.95"/><circle cx="397.94" cy="840.25" r="3.95"/><circle cx="404.72" cy="778.00" r="3.95"/><circle cx="411.50" cy="852.75" r="3.95"/><circle cx="418.28" cy="855.75" r="3.95"/><circle cx="425.06" cy="848.25" r="3.95"/><circle cx="431.85" cy="849.25" r="3.95"/><circle cx="438.63" cy="846.50" r="3.95"/><circle cx="445.41" cy="856.50" r="3.95"/><circle cx="452.19" cy="784.25" r="3.95"/><circle cx="458.97" cy="814.50" r="3.95"/><circle cx="465.76" cy="855.75" r="3.95"/><circle cx="472.54" cy="850.75" r="3.95"/><circle cx="479.32" cy="837.50" r="3.95"/><circle cx="486.10" cy="829.25" r="3.95"/><circle cx="492.88" cy="857.00" r="3.95"/><circle cx="499.67" cy="820.50" r="3.95"/><circle cx="506.45" cy="846.00" r="3.95"/><circle cx="513.23" cy="837.75" r="3.95"/><circle cx="520.01" cy="848.25" r="3.95"/><circle cx="526.79" cy="852.75" r="3.95"/><circle cx="533.58" cy="848.75" r="3.95"/><circle cx="540.36" cy="851.25" r="3.95"/><circle cx="547.14" cy="842.50" r="3.95"/><circle cx="553.92" cy="851.25" r="3.95"/><circle cx="560.70" cy="848.50" r="3.95"/><circle cx="567.49" cy="836.25" r="3.95"/><circle cx="574.27" cy="792.75" r="3.95"/><circle cx="581.05" cy="849.50" r="3.95"/><circle cx="587.83" cy="805.50" r="3.95"/></g>
</g>
<path fill="none" stroke="#000" stroke-width="1.3" d="M72.40 2.00 V11.60 M72.40 287.00 V306.20 M72.40 582.30 V601.50 M72.40 877.15 V886.75 M79.18 2.00 V6.80 M79.18 291.80 V301.40 M79.18 587.10 V596.70 M79.18 881.95 V886.75 M85.96 2.00 V6.80 M85.96 291.80 V301.40 M85.96 587.10 V596.70 M85.96 881.95 V886.75 M92.75 2.00 V6.80 M92.75 291.80 V301.40 M92.75 587.10 V596.70 M92.75 881.95 V886.75 M99.53 2.00 V6.80 M99.53 291.80 V301.40 M99.53 587.10 V596.70 M99.53 881.95 V886.75 M106.31 2.00 V11.60 M106.31 287.00 V306.20 M106.31 582.30 V601.50 M106.31 877.15 V886.75 M113.09 2.00 V6.80 M113.09 291.80 V301.40 M113.09 587.10 V596.70 M113.09 881.95 V886.75 M119.87 2.00 V6.80 M119.87 291.80 V301.40 M119.87 587.10 V596.70 M119.87 881.95 V886.75 M126.66 2.00 V6.80 M126.66 291.80 V301.40 M126.66 587.10 V596.70 M126.66 881.95 V886.75 M133.44 2.00 V6.80 M133.44 291.80 V301.40 M133.44 587.10 V596.70 M133.44 881.95 V886.75 M140.22 2.00 V11.60 M140.22 287.00 V306.20 M140.22 582.30 V601.50 M140.22 877.15 V886.75 M147.00 2.00 V6.80 M147.00 291.80 V301.40 M147.00 587.10 V596.70 M147.00 881.95 V886.75 M153.78 2.00 V6.80 M153.78 291.80 V301.40 M153.78 587.10 V596.70 M153.78 881.95 V886.75 M160.57 2.00 V6.80 M160.57 291.80 V301.40 M160.57 587.10 V596.70 M160.57 881.95 V886.75 M167.35 2.00 V6.80 M167.35 291.80 V301.40 M167.35 587.10 V596.70 M167.35 881.95 V886.75 M174.13 2.00 V11.60 M174.13 287.00 V306.20 M174.13 582.30 V601.50 M174.13 877.15 V886.75 M180.91 2.00 V6.80 M180.91 291.80 V301.40 M180.91 587.10 V596.70 M180.91 881.95 V886.75 M187.69 2.00 V6.80 M187.69 291.80 V301.40 M187.69 587.10 V596.70 M187.69 881.95 V886.75 M194.48 2.00 V6.80 M194.48 291.80 V301.40 M194.48 587.10 V596.70 M194.48 881.95 V886.75 M201.26 2.00 V6.80 M201.26 291.80 V301.40 M201.26 587.10 V596.70 M201.26 881.95 V886.75 M208.04 2.00 V11.60 M208.04 287.00 V306.20 M208.04 582.30 V601.50 M208.04 877.15 V886.75 M214.82 2.00 V6.80 M214.82 291.80 V301.40 M214.82 587.10 V596.70 M214.82 881.95 V886.75 M221.60 2.00 V6.80 M221.60 291.80 V301.40 M221.60 587.10 V596.70 M221.60 881.95 V886.75 M228.39 2.00 V6.80 M228.39 291.80 V301.40 M228.39 587.10 V596.70 M228.39 881.95 V886.75 M235.17 2.00 V6.80 M235.17 291.80 V301.40 M235.17 587.10 V596.70 M235.17 881.95 V886.75 M241.95 2.00 V11.60 M241.95 287.00 V306.20 M241.95 582.30 V601.50 M241.95 877.15 V886.75 M248.73 2.00 V6.80 M248.73 291.80 V301.40 M248.73 587.10 V596.70 M248.73 881.95 V886.75 M255.51 2.00 V6.80 M255.51 291.80 V301.40 M255.51 587.10 V596.70 M255.51 881.95 V886.75 M262.30 2.00 V6.80 M262.30 291.80 V301.40 M262.30 587.10 V596.70 M262.30 881.95 V886.75 M269.08 2.00 V6.80 M269.08 291.80 V301.40 M269.08 587.10 V596.70 M269.08 881.95 V886.75 M275.86 2.00 V11.60 M275.86 287.00 V306.20 M275.86 582.30 V601.50 M275.86 877.15 V886.75 M282.64 2.00 V6.80 M282.64 291.80 V301.40 M282.64 587.10 V596.70 M282.64 881.95 V886.75 M289.42 2.00 V6.80 M289.42 291.80 V301.40 M289.42 587.10 V596.70 M289.42 881.95 V886.75 M296.21 2.00 V6.80 M296.21 291.80 V301.40 M296.21 587.10 V596.70 M296.21 881.95 V886.75 M302.99 2.00 V6.80 M302.99 291.80 V301.40 M302.99 587.10 V596.70 M302.99 881.95 V886.75 M309.77 2.00 V11.60 M309.77 287.00 V306.20 M309.77 582.30 V601.50 M309.77 877.15 V886.75 M316.55 2.00 V6.80 M316.55 291.80 V301.40 M316.55 587.10 V596.70 M316.55 881.95 V886.75 M323.33 2.00 V6.80 M323.33 291.80 V301.40 M323.33 587.10 V596.70 M323.33 881.95 V886.75 M330.12 2.00 V6.80 M330.12 291.80 V301.40 M330.12 587.10 V596.70 M330.12 881.95 V886.75 M336.90 2.00 V6.80 M336.90 291.80 V301.40 M336.90 587.10 V596.70 M336.90 881.95 V886.75 M343.68 2.00 V11.60 M343.68 287.00 V306.20 M343.68 582.30 V601.50 M343.68 877.15 V886.75 M350.46 2.00 V6.80 M350.46 291.80 V301.40 M350.46 587.10 V596.70 M350.46 881.95 V886.75 M357.24 2.00 V6.80 M357.24 291.80 V301.40 M357.24 587.10 V596.70 M357.24 881.95 V886.75 M364.03 2.00 V6.80 M364.03 291.80 V301.40 M364.03 587.10 V596.70 M364.03 881.95 V886.75 M370.81 2.00 V6.80 M370.81 291.80 V301.40 M370.81 587.10 V596.70 M370.81 881.95 V886.75 M377.59 2.00 V11.60 M377.59 287.00 V306.20 M377.59 582.30 V601.50 M377.59 877.15 V886.75 M384.37 2.00 V6.80 M384.37 291.80 V301.40 M384.37 587.10 V596.70 M384.37 881.95 V886.75 M391.15 2.00 V6.80 M391.15 291.80 V301.40 M391.15 587.10 V596.70 M391.15 881.95 V886.75 M397.94 2.00 V6.80 M397.94 291.80 V301.40 M397.94 587.10 V596.70 M397.94 881.95 V886.75 M404.72 2.00 V6.80 M404.72 291.80 V301.40 M404.72 587.10 V596.70 M404.72 881.95 V886.75 M411.50 2.00 V11.60 M411.50 287.00 V306.20 M411.50 582.30 V601.50 M411.50 877.15 V886.75 M418.28 2.00 V6.80 M418.28 291.80 V301.40 M418.28 587.10 V596.70 M418.28 881.95 V886.75 M425.06 2.00 V6.80 M425.06 291.80 V301.40 M425.06 587.10 V596.70 M425.06 881.95 V886.75 M431.85 2.00 V6.80 M431.85 291.80 V301.40 M431.85 587.10 V596.70 M431.85 881.95 V886.75 M438.63 2.00 V6.80 M438.63 291.80 V301.40 M438.63 587.10 V596.70 M438.63 881.95 V886.75 M445.41 2.00 V11.60 M445.41 287.00 V306.20 M445.41 582.30 V601.50 M445.41 877.15 V886.75 M452.19 2.00 V6.80 M452.19 291.80 V301.40 M452.19 587.10 V596.70 M452.19 881.95 V886.75 M458.97 2.00 V6.80 M458.97 291.80 V301.40 M458.97 587.10 V596.70 M458.97 881.95 V886.75 M465.76 2.00 V6.80 M465.76 291.80 V301.40 M465.76 587.10 V596.70 M465.76 881.95 V886.75 M472.54 2.00 V6.80 M472.54 291.80 V301.40 M472.54 587.10 V596.70 M472.54 881.95 V886.75 M479.32 2.00 V11.60 M479.32 287.00 V306.20 M479.32 582.30 V601.50 M479.32 877.15 V886.75 M486.10 2.00 V6.80 M486.10 291.80 V301.40 M486.10 587.10 V596.70 M486.10 881.95 V886.75 M492.88 2.00 V6.80 M492.88 291.80 V301.40 M492.88 587.10 V596.70 M492.88 881.95 V886.75 M499.67 2.00 V6.80 M499.67 291.80 V301.40 M499.67 587.10 V596.70 M499.67 881.95 V886.75 M506.45 2.00 V6.80 M506.45 291.80 V301.40 M506.45 587.10 V596.70 M506.45 881.95 V886.75 M513.23 2.00 V11.60 M513.23 287.00 V306.20 M513.23 582.30 V601.50 M513.23 877.15 V886.75 M520.01 2.00 V6.80 M520.01 291.80 V301.40 M520.01 587.10 V596.70 M520.01 881.95 V886.75 M526.79 2.00 V6.80 M526.79 291.80 V301.40 M526.79 587.10 V596.70 M526.79 881.95 V886.75 M533.58 2.00 V6.80 M533.58 291.80 V301.40 M533.58 587.10 V596.70 M533.58 881.95 V886.75 M540.36 2.00 V6.80 M540.36 291.80 V301.40 M540.36 587.10 V596.70 M540.36 881.95 V886.75 M547.14 2.00 V11.60 M547.14 287.00 V306.20 M547.14 582.30 V601.50 M547.14 877.15 V886.75 M553.92 2.00 V6.80 M553.92 291.80 V301.40 M553.92 587.10 V596.70 M553.92 881.95 V886.75 M560.70 2.00 V6.80 M560.70 291.80 V301.40 M560.70 587.10 V596.70 M560.70 881.95 V886.75 M567.49 2.00 V6.80 M567.49 291.80 V301.40 M567.49 587.10 V596.70 M567.49 881.95 V886.75 M574.27 2.00 V6.80 M574.27 291.80 V301.40 M574.27 587.10 V596.70 M574.27 881.95 V886.75 M581.05 2.00 V11.60 M581.05 287.00 V306.20 M581.05 582.30 V601.50 M581.05 877.15 V886.75 M587.83 2.00 V6.80 M587.83 291.80 V301.40 M587.83 587.10 V596.70 M587.83 881.95 V886.75 M64.15 283.75 H73.75 M586.90 283.75 H596.50 M64.15 276.15 H68.95 M591.70 276.15 H596.50 M64.15 268.56 H68.95 M591.70 268.56 H596.50 M64.15 260.96 H68.95 M591.70 260.96 H596.50 M64.15 253.36 H73.75 M586.90 253.36 H596.50 M64.15 245.76 H68.95 M591.70 245.76 H596.50 M64.15 238.17 H68.95 M591.70 238.17 H596.50 M64.15 230.57 H68.95 M591.70 230.57 H596.50 M64.15 222.97 H73.75 M586.90 222.97 H596.50 M64.15 215.38 H68.95 M591.70 215.38 H596.50 M64.15 207.78 H68.95 M591.70 207.78 H596.50 M64.15 200.18 H68.95 M591.70 200.18 H596.50 M64.15 192.59 H73.75 M586.90 192.59 H596.50 M64.15 184.99 H68.95 M591.70 184.99 H596.50 M64.15 177.39 H68.95 M591.70 177.39 H596.50 M64.15 169.79 H68.95 M591.70 169.79 H596.50 M64.15 162.20 H73.75 M586.90 162.20 H596.50 M64.15 154.60 H68.95 M591.70 154.60 H596.50 M64.15 147.00 H68.95 M591.70 147.00 H596.50 M64.15 139.41 H68.95 M591.70 139.41 H596.50 M64.15 131.81 H73.75 M586.90 131.81 H596.50 M64.15 124.21 H68.95 M591.70 124.21 H596.50 M64.15 116.62 H68.95 M591.70 116.62 H596.50 M64.15 109.02 H68.95 M591.70 109.02 H596.50 M64.15 101.42 H73.75 M586.90 101.42 H596.50 M64.15 93.82 H68.95 M591.70 93.82 H596.50 M64.15 86.23 H68.95 M591.70 86.23 H596.50 M64.15 78.63 H68.95 M591.70 78.63 H596.50 M64.15 71.03 H73.75 M586.90 71.03 H596.50 M64.15 63.44 H68.95 M591.70 63.44 H596.50 M64.15 55.84 H68.95 M591.70 55.84 H596.50 M64.15 48.24 H68.95 M591.70 48.24 H596.50 M64.15 40.65 H73.75 M586.90 40.65 H596.50 M64.15 33.05 H68.95 M591.70 33.05 H596.50 M64.15 25.45 H68.95 M591.70 25.45 H596.50 M64.15 17.85 H68.95 M591.70 17.85 H596.50 M64.15 10.26 H73.75 M586.90 10.26 H596.50 M64.15 575.75 H73.75 M586.90 575.75 H596.50 M64.15 560.74 H68.95 M591.70 560.74 H596.50 M64.15 545.72 H73.75 M586.90 545.72 H596.50 M64.15 530.71 H68.95 M591.70 530.71 H596.50 M64.15 515.69 H73.75 M586.90 515.69 H596.50 M64.15 500.68 H68.95 M591.70 500.68 H596.50 M64.15 485.67 H73.75 M586.90 485.67 H596.50 M64.15 470.65 H68.95 M591.70 470.65 H596.50 M64.15 455.64 H73.75 M586.90 455.64 H596.50 M64.15 440.62 H68.95 M591.70 440.62 H596.50 M64.15 425.61 H73.75 M586.90 425.61 H596.50 M64.15 410.60 H68.95 M591.70 410.60 H596.50 M64.15 395.58 H73.75 M586.90 395.58 H596.50 M64.15 380.57 H68.95 M591.70 380.57 H596.50 M64.15 365.55 H73.75 M586.90 365.55 H596.50 M64.15 350.54 H68.95 M591.70 350.54 H596.50 M64.15 335.53 H73.75 M586.90 335.53 H596.50 M64.15 320.51 H68.95 M591.70 320.51 H596.50 M64.15 305.50 H73.75 M586.90 305.50 H596.50 M64.15 878.10 H68.95 M591.70 878.10 H596.50 M64.15 867.00 H73.75 M586.90 867.00 H596.50 M64.15 855.90 H68.95 M591.70 855.90 H596.50 M64.15 844.80 H68.95 M591.70 844.80 H596.50 M64.15 833.70 H68.95 M591.70 833.70 H596.50 M64.15 822.60 H68.95 M591.70 822.60 H596.50 M64.15 811.50 H73.75 M586.90 811.50 H596.50 M64.15 800.40 H68.95 M591.70 800.40 H596.50 M64.15 789.30 H68.95 M591.70 789.30 H596.50 M64.15 778.20 H68.95 M591.70 778.20 H596.50 M64.15 767.10 H68.95 M591.70 767.10 H596.50 M64.15 756.00 H73.75 M586.90 756.00 H596.50 M64.15 744.90 H68.95 M591.70 744.90 H596.50 M64.15 733.80 H68.95 M591.70 733.80 H596.50 M64.15 722.70 H68.95 M591.70 722.70 H596.50 M64.15 711.60 H68.95 M591.70 711.60 H596.50 M64.15 700.50 H73.75 M586.90 700.50 H596.50 M64.15 689.40 H68.95 M591.70 689.40 H596.50 M64.15 678.30 H68.95 M591.70 678.30 H596.50 M64.15 667.20 H68.95 M591.70 667.20 H596.50 M64.15 656.10 H68.95 M591.70 656.10 H596.50 M64.15 645.00 H73.75 M586.90 645.00 H596.50 M64.15 633.90 H68.95 M591.70 633.90 H596.50 M64.15 622.80 H68.95 M591.70 622.80 H596.50 M64.15 611.70 H68.95 M591.70 611.70 H596.50 M64.15 600.60 H68.95 M591.70 600.60 H596.50"/>
<path fill="none" stroke="#111" stroke-width="1.8" d="M64.15 2.00 H596.50 V886.75 H64.15 Z"/>
<path fill="none" stroke="#000" stroke-width="2.1" d="M64.15 296.60 H596.50 M64.15 591.90 H596.50"/>
<text class="tl" x="58.8" y="288.8" text-anchor="end" textLength="8.1" lengthAdjust="spacingAndGlyphs">0</text>
<text class="tl" x="58.8" y="258.4" text-anchor="end" textLength="16.2" lengthAdjust="spacingAndGlyphs">40</text>
<text class="tl" x="58.8" y="228.0" text-anchor="end" textLength="16.2" lengthAdjust="spacingAndGlyphs">80</text>
<text class="tl" x="58.8" y="197.6" text-anchor="end" textLength="24.3" lengthAdjust="spacingAndGlyphs">120</text>
<text class="tl" x="58.8" y="167.2" text-anchor="end" textLength="24.3" lengthAdjust="spacingAndGlyphs">160</text>
<text class="tl" x="58.8" y="136.8" text-anchor="end" textLength="24.3" lengthAdjust="spacingAndGlyphs">200</text>
<text class="tl" x="58.8" y="106.4" text-anchor="end" textLength="24.3" lengthAdjust="spacingAndGlyphs">240</text>
<text class="tl" x="58.8" y="76.0" text-anchor="end" textLength="24.3" lengthAdjust="spacingAndGlyphs">280</text>
<text class="tl" x="58.8" y="45.6" text-anchor="end" textLength="24.3" lengthAdjust="spacingAndGlyphs">320</text>
<text class="tl" x="58.8" y="15.3" text-anchor="end" textLength="24.3" lengthAdjust="spacingAndGlyphs">360</text>
<text class="tl" x="58.8" y="580.8" text-anchor="end" textLength="8.1" lengthAdjust="spacingAndGlyphs">0</text>
<text class="tl" x="58.8" y="550.7" text-anchor="end" textLength="16.2" lengthAdjust="spacingAndGlyphs">20</text>
<text class="tl" x="58.8" y="520.7" text-anchor="end" textLength="16.2" lengthAdjust="spacingAndGlyphs">40</text>
<text class="tl" x="58.8" y="490.7" text-anchor="end" textLength="16.2" lengthAdjust="spacingAndGlyphs">60</text>
<text class="tl" x="58.8" y="460.6" text-anchor="end" textLength="16.2" lengthAdjust="spacingAndGlyphs">80</text>
<text class="tl" x="58.8" y="430.6" text-anchor="end" textLength="24.3" lengthAdjust="spacingAndGlyphs">100</text>
<text class="tl" x="58.8" y="400.6" text-anchor="end" textLength="24.3" lengthAdjust="spacingAndGlyphs">120</text>
<text class="tl" x="58.8" y="370.6" text-anchor="end" textLength="24.3" lengthAdjust="spacingAndGlyphs">140</text>
<text class="tl" x="58.8" y="340.5" text-anchor="end" textLength="24.3" lengthAdjust="spacingAndGlyphs">160</text>
<text class="tl" x="58.8" y="310.5" text-anchor="end" textLength="24.3" lengthAdjust="spacingAndGlyphs">180</text>
<text class="tl" x="58.8" y="872.0" text-anchor="end" textLength="8.1" lengthAdjust="spacingAndGlyphs">0</text>
<text class="tl" x="58.8" y="816.5" text-anchor="end" textLength="8.1" lengthAdjust="spacingAndGlyphs">5</text>
<text class="tl" x="58.8" y="761.0" text-anchor="end" textLength="16.2" lengthAdjust="spacingAndGlyphs">10</text>
<text class="tl" x="58.8" y="705.5" text-anchor="end" textLength="16.2" lengthAdjust="spacingAndGlyphs">15</text>
<text class="tl" x="58.8" y="650.0" text-anchor="end" textLength="16.2" lengthAdjust="spacingAndGlyphs">20</text>
<text class="tl" x="72.4" y="905.4" text-anchor="middle" textLength="8.1" lengthAdjust="spacingAndGlyphs">0</text>
<text class="tl" x="106.3" y="905.4" text-anchor="middle" textLength="8.1" lengthAdjust="spacingAndGlyphs">5</text>
<text class="tl" x="140.2" y="905.4" text-anchor="middle" textLength="16.2" lengthAdjust="spacingAndGlyphs">10</text>
<text class="tl" x="174.1" y="905.4" text-anchor="middle" textLength="16.2" lengthAdjust="spacingAndGlyphs">15</text>
<text class="tl" x="208.0" y="905.4" text-anchor="middle" textLength="16.2" lengthAdjust="spacingAndGlyphs">20</text>
<text class="tl" x="242.0" y="905.4" text-anchor="middle" textLength="16.2" lengthAdjust="spacingAndGlyphs">25</text>
<text class="tl" x="275.9" y="905.4" text-anchor="middle" textLength="16.2" lengthAdjust="spacingAndGlyphs">30</text>
<text class="tl" x="309.8" y="905.4" text-anchor="middle" textLength="16.2" lengthAdjust="spacingAndGlyphs">35</text>
<text class="tl" x="343.7" y="905.4" text-anchor="middle" textLength="16.2" lengthAdjust="spacingAndGlyphs">40</text>
<text class="tl" x="377.6" y="905.4" text-anchor="middle" textLength="16.2" lengthAdjust="spacingAndGlyphs">45</text>
<text class="tl" x="411.5" y="905.4" text-anchor="middle" textLength="16.2" lengthAdjust="spacingAndGlyphs">50</text>
<text class="tl" x="445.4" y="905.4" text-anchor="middle" textLength="16.2" lengthAdjust="spacingAndGlyphs">55</text>
<text class="tl" x="479.3" y="905.4" text-anchor="middle" textLength="16.2" lengthAdjust="spacingAndGlyphs">60</text>
<text class="tl" x="513.2" y="905.4" text-anchor="middle" textLength="16.2" lengthAdjust="spacingAndGlyphs">65</text>
<text class="tl" x="547.1" y="905.4" text-anchor="middle" textLength="16.2" lengthAdjust="spacingAndGlyphs">70</text>
<text class="tl" x="581.0" y="905.4" text-anchor="middle" textLength="16.2" lengthAdjust="spacingAndGlyphs">75</text>
<text class="ax" x="330.5" y="929.8" text-anchor="middle" font-size="23.4px">Integration</text>
<text class="ax" transform="translate(18.2,148.5) rotate(-90) scale(1,1.07)" text-anchor="middle" font-size="23.2px">Ω</text>
<text class="ax" transform="translate(18.3,444) rotate(-90)" text-anchor="middle" font-size="23.2px">Inclination</text>
<text class="ax" transform="translate(19.2,766.6) rotate(-90)" font-size="23.2px">M<tspan dy="4.0" font-size="21.1px" font-weight="bold">Jup</tspan></text>
<rect x="483.7" y="401.7" width="42.2" height="56.8" fill="#fff" stroke="#222" stroke-width="1.3"/>
<path fill="none" stroke="#28ab28" stroke-width="1.7" d="M500.7 409.9 L503.9 415.2 L497.5 415.2 Z"/>
<path fill="none" stroke="#6068d8" stroke-width="0.8" d="M497.10 427.00 h7.20 v7.20 h-7.20 Z"/>
<circle cx="500.7" cy="447.1" r="4" fill="#ed1c24"/>
<text class="tl" x="515" y="417.3" font-size="13.6px">d</text>
<text class="tl" x="515" y="434.0" font-size="13.6px">c</text>
<text class="tl" x="515" y="450.9" font-size="13.6px">b</text>
</svg></body></html>
